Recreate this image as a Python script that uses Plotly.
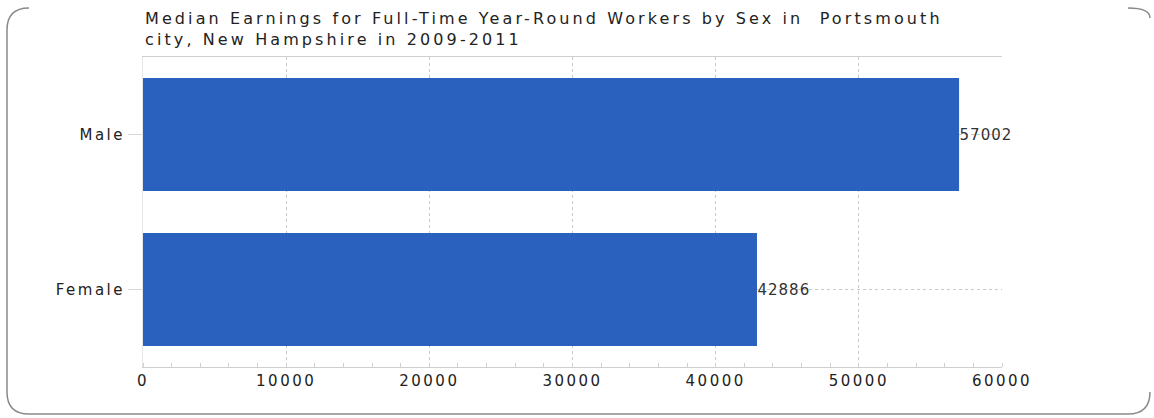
import plotly.graph_objects as go

categories = ["Female", "Male"]
values = [42886, 57002]
x_ticks = [0, 10000, 20000, 30000, 40000, 50000, 60000]
title_text = "Median Earnings for Full-Time Year-Round Workers by Sex in  Portsmouth<br>city, New Hampshire in 2009-2011"

FONT = "DejaVu Sans"
W, H = 1154, 418
ML, MR, MT, MB = 143, 152, 57, 51
PW, PH = W - ML - MR, H - MT - MB


def px(x):
    return (x - ML) / PW


def py(y):
    return (H - MB - y) / PH


fig = go.Figure()
fig.add_trace(go.Bar(
    y=categories, x=values, orientation="h",
    marker=dict(color="#2A60BE", line=dict(width=0)),
    width=0.73,
    text=[str(v) for v in values], textposition="outside",
    textfont=dict(family=FONT, size=15, color="#333333"),
    cliponaxis=False,
))

# outer rounded border (left, bottom, corners)
L, T, R, B, rad = 7, 8, 1150, 414, 22
path = (f"M {px(L+rad)},{py(T)} Q {px(L)},{py(T)} {px(L)},{py(T+rad)} "
        f"L {px(L)},{py(B-rad)} Q {px(L)},{py(B)} {px(L+rad)},{py(B)} "
        f"L {px(R-rad)},{py(B)} Q {px(R)},{py(B)} {px(R)},{py(B-rad)}")
fig.add_shape(type="path", xref="paper", yref="paper", path=path,
              line=dict(color="#8a8a8a", width=1.5), layer="above")
# small top-right corner arc
path2 = f"M {px(R-22)},{py(T)} Q {px(R)},{py(T)} {px(R)},{py(T+10)}"
fig.add_shape(type="path", xref="paper", yref="paper", path=path2,
              line=dict(color="#8a8a8a", width=1.5), layer="above")

fig.update_layout(
    width=W, height=H,
    margin=dict(l=ML, r=MR, t=MT, b=MB),
    paper_bgcolor="white", plot_bgcolor="white",
    showlegend=False,
    font=dict(family=FONT, size=15, color="#222222"),
    title=dict(text=title_text, x=145 / W, xref="container", xanchor="left",
               y=1 - 24 / H, yref="container", yanchor="top",
               font=dict(family=FONT, size=16, color="#222222")),
    xaxis=dict(range=[0, 60000], tickvals=x_ticks, ticktext=[str(t) for t in x_ticks],
               showgrid=True, gridcolor="#c8c8c8", griddash="dot", gridwidth=1,
               showline=True, linecolor="#cfcfcf", mirror=True, zeroline=False,
               ticks="", tickfont=dict(family=FONT, size=15, color="#222222"),
               minor=dict(dtick=2000, ticks="inside", ticklen=4, tickcolor="#d0d0d0", showgrid=False)),
    yaxis=dict(range=[-0.5, 1.5], showgrid=True, gridcolor="#c8c8c8", griddash="dot",
               showline=True, linecolor="#e6e6e6", zeroline=False,
               ticks="outside", ticklen=14, tickcolor="#d8d8d8",
               tickfont=dict(family=FONT, size=15, color="#222222")),
)

post = """
document.body.style.margin='0';
document.querySelectorAll('.gtitle').forEach(function(t){t.style.letterSpacing='3.1px';});
document.querySelectorAll('.xtick text, .ytick text').forEach(function(t){t.style.letterSpacing='2.5px';});
document.querySelectorAll('.bartext').forEach(function(t){t.style.letterSpacing='1px';});
"""
fig.write_html("out.html", post_script=post, config={"displayModeBar": False})
